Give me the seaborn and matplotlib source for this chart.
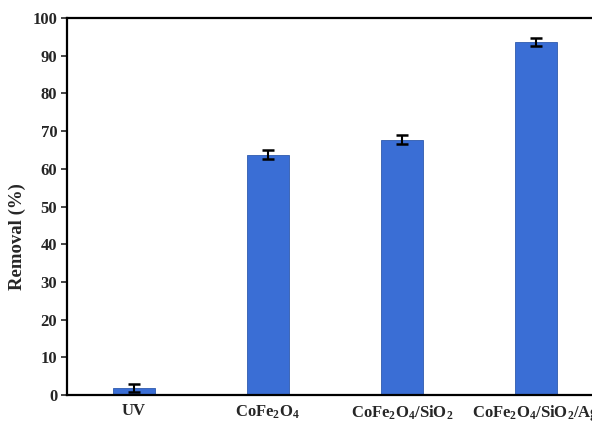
import matplotlib
matplotlib.use("Agg")
import matplotlib.pyplot as plt
import seaborn as sns
import pandas as pd

categories = ["UV", "CoFe$_2$O$_4$", "CoFe$_2$O$_4$/SiO$_2$", "CoFe$_2$O$_4$/SiO$_2$/Ag"]
removal = [1.9, 63.7, 67.7, 93.6]
errors = [1.0, 1.2, 1.2, 1.1]
yticks = [0, 10, 20, 30, 40, 50, 60, 70, 80, 90, 100]

sns.set_style("white")
plt.rcParams["font.family"] = ["Liberation Serif", "DejaVu Serif"]
plt.rcParams["font.weight"] = "bold"
plt.rcParams["mathtext.fontset"] = "custom"
plt.rcParams["mathtext.rm"] = "Liberation Serif:bold"
plt.rcParams["mathtext.it"] = "Liberation Serif:bold"
plt.rcParams["mathtext.bf"] = "Liberation Serif:bold"

df = pd.DataFrame({"cat": categories, "val": removal})

fig = plt.figure(figsize=(5.92, 4.21), dpi=100)
ax = fig.add_axes([0.113, 0.062, 0.887, 0.895])
sns.barplot(data=df, x="cat", y="val", ax=ax, color="#3A6ED5", width=0.31,
            errorbar=None, saturation=1, edgecolor="#2F5AAE", linewidth=0.6)
ax.errorbar(range(len(categories)), removal, yerr=errors, fmt="none",
            ecolor="black", elinewidth=1.5, capsize=4, capthick=1.8, zorder=5)

ax.set_xlim(-0.5, 3.42)
ax.set_ylim(0, 100)
ax.set_yticks(yticks)
ax.set_ylabel("Removal (%)", fontsize=13.5, fontweight="bold")
ax.yaxis.set_label_coords(-0.078, 0.42)
ax.set_xlabel("")
ax.tick_params(axis="y", direction="out", length=4, width=1.2, labelsize=12, pad=3, left=True)
ax.tick_params(axis="x", length=0, labelsize=12, pad=6)
for lab in ax.get_xticklabels() + ax.get_yticklabels():
    lab.set_fontweight("bold")
for side in ["left", "bottom", "top"]:
    ax.spines[side].set_visible(True)
    ax.spines[side].set_color("black")
    ax.spines[side].set_linewidth(1.6)
ax.spines["right"].set_visible(False)

fig.savefig("out.png", dpi=100)
